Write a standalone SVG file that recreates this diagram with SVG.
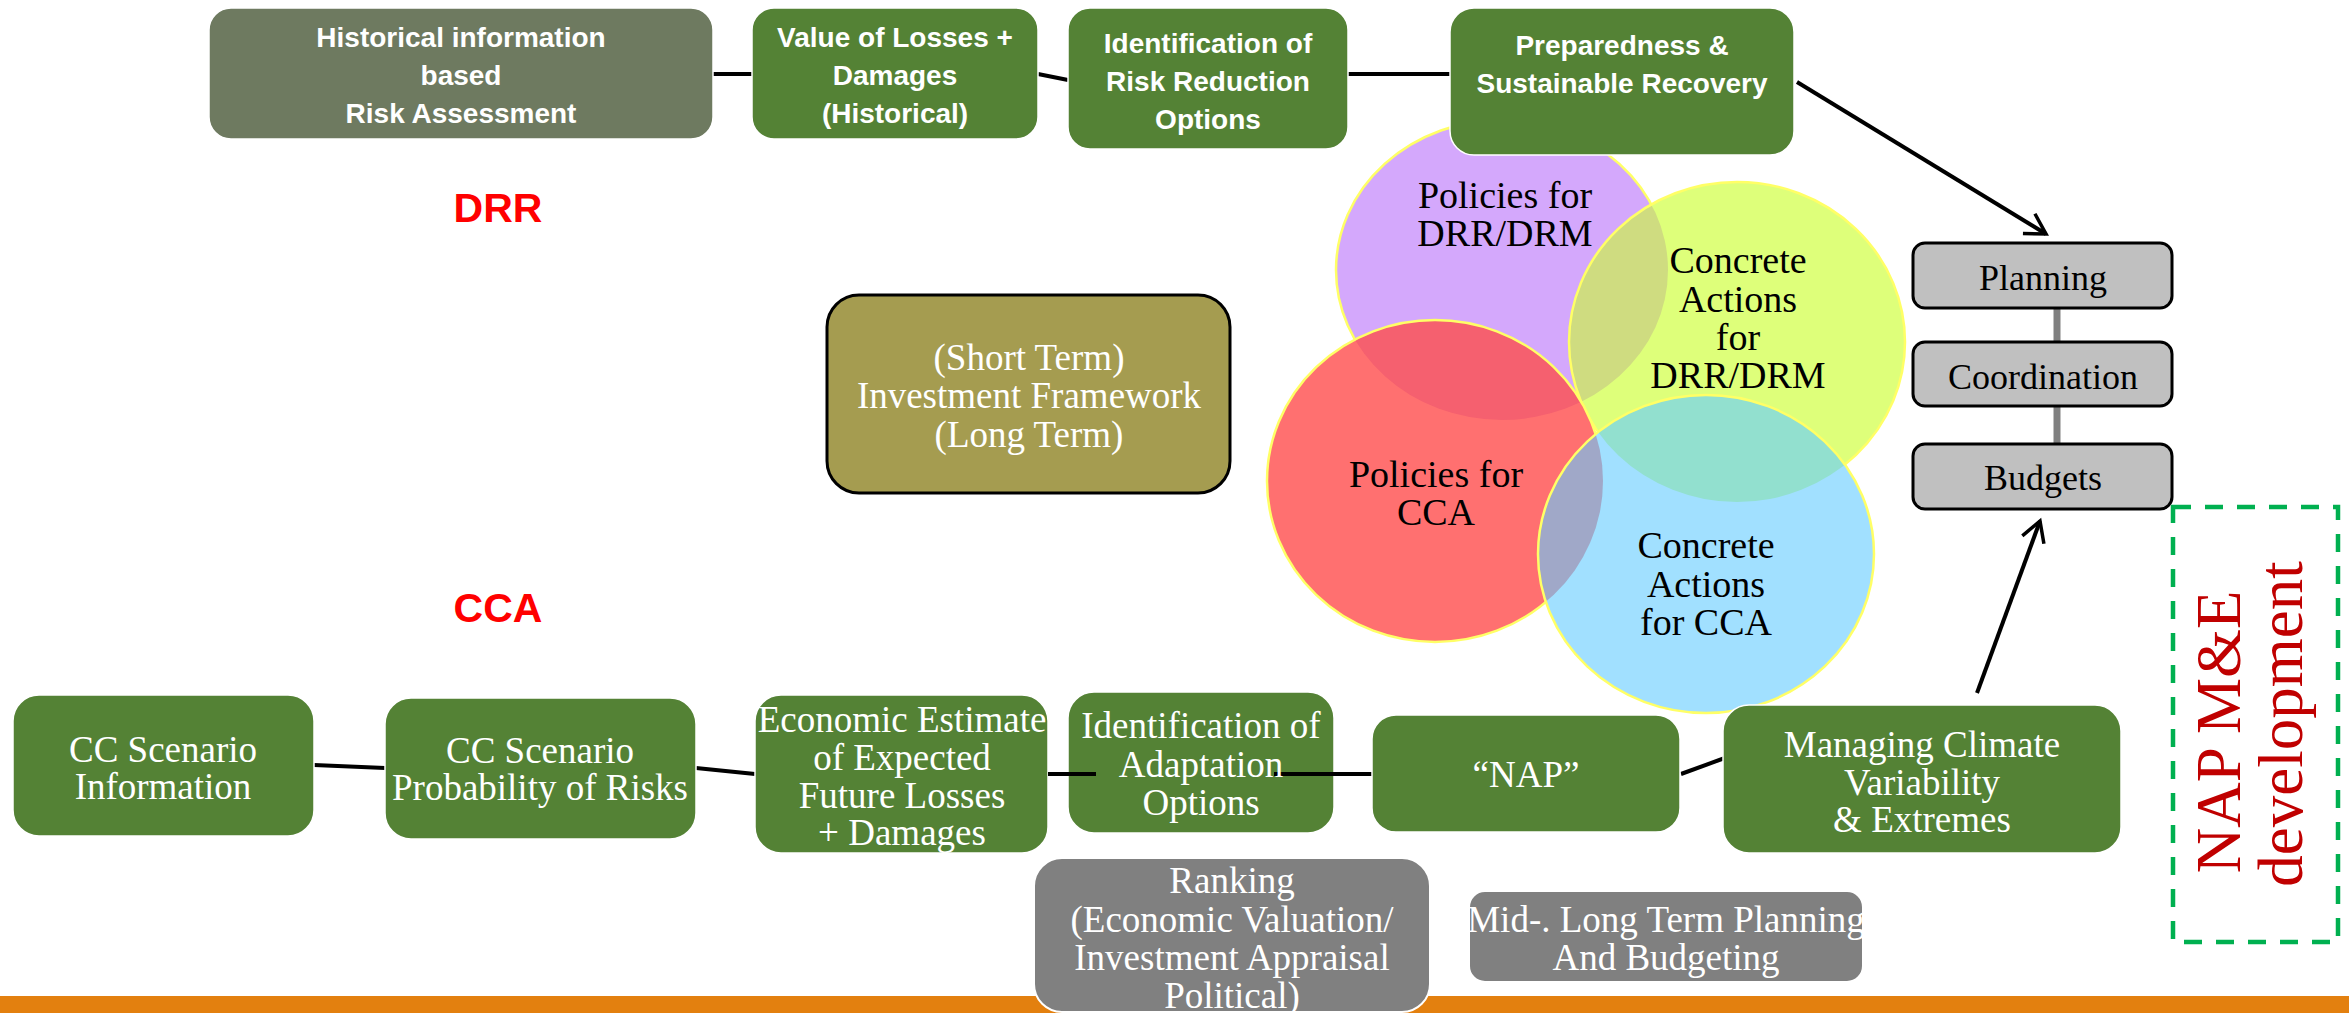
<svg xmlns="http://www.w3.org/2000/svg" xmlns:xlink="http://www.w3.org/1999/xlink" width="2349" height="1013" viewBox="0 0 2349 1013">
  <style>
    .g { fill: #548235; stroke: #ffffff; stroke-width: 1.5; }
    .gd { fill: #6e7a60; stroke: #ffffff; stroke-width: 1.5; }
    .gr { fill: #808080; stroke: #ffffff; stroke-width: 2; }
    .pl { fill: #c0c0c0; stroke: #000000; stroke-width: 3; }
    .tb { font-family: "Liberation Sans", Arial, sans-serif; font-weight: bold; font-size: 28px; fill: #ffffff; text-anchor: middle; }
    .ts { font-family: "Liberation Serif", "Times New Roman", serif; font-size: 37px; fill: #ffffff; text-anchor: middle; }
    .tk { font-family: "Liberation Serif", "Times New Roman", serif; font-size: 38px; fill: #000000; text-anchor: middle; }
    .tp { font-family: "Liberation Serif", "Times New Roman", serif; font-size: 36px; fill: #000000; text-anchor: middle; }
    .lab { font-family: "Liberation Sans", Arial, sans-serif; font-weight: bold; font-size: 41px; fill: #ff0000; text-anchor: middle; }
    .ln { stroke: #000000; stroke-width: 4; fill: none; }
    .edge { fill: none; stroke: #ffff66; stroke-width: 2.5; }
  </style>
  <defs>
    <marker id="open" markerUnits="userSpaceOnUse" markerWidth="30" markerHeight="30" viewBox="-24 -15 28 30" refX="0" refY="0" orient="auto">
      <path d="M-20,-11.5 L0,0 L-20,11.5" fill="none" stroke="#000" stroke-width="3.5"/>
    </marker>
    <ellipse id="eP" cx="1502" cy="270" rx="166" ry="150"/>
    <ellipse id="eY" cx="1737" cy="342" rx="168" ry="160"/>
    <ellipse id="eR" cx="1435" cy="481" rx="168" ry="161"/>
    <ellipse id="eB" cx="1706" cy="554" rx="168" ry="159"/>
    <clipPath id="cP"><use xlink:href="#eP"/></clipPath>
    <clipPath id="cY"><use xlink:href="#eY"/></clipPath>
    <clipPath id="cR"><use xlink:href="#eR"/></clipPath>
  </defs>

  <rect x="0" y="0" width="2349" height="1013" fill="#ffffff"/>

  <!-- bottom band -->
  <rect x="0" y="996" width="2349" height="17" fill="#e3800f"/>

  <!-- four overlapping policy / action areas -->
  <g id="venn">
    <use xlink:href="#eP" fill="#d4a8fc"/>
    <use xlink:href="#eP" class="edge"/>
    <use xlink:href="#eY" fill="#deff7a"/>
    <use xlink:href="#eY" fill="#cfdc80" clip-path="url(#cP)"/>
    <use xlink:href="#eY" class="edge"/>
    <use xlink:href="#eR" fill="#ff7070"/>
    <use xlink:href="#eR" fill="#f5606f" clip-path="url(#cP)"/>
    <use xlink:href="#eR" fill="#efa070" clip-path="url(#cY)"/>
    <use xlink:href="#eR" class="edge"/>
    <use xlink:href="#eB" fill="#a1e0ff"/>
    <use xlink:href="#eB" fill="#92e0cf" clip-path="url(#cY)"/>
    <use xlink:href="#eB" fill="#a0a8c8" clip-path="url(#cR)"/>
    <use xlink:href="#eB" class="edge"/>
  </g>
  <g id="venn-policies-drr">
    <text class="tk" x="1505" y="208">Policies for</text>
    <text class="tk" x="1505" y="246">DRR/DRM</text>
  </g>
  <g id="venn-actions-drr">
    <text class="tk" x="1738" y="273">Concrete</text>
    <text class="tk" x="1738" y="312">Actions</text>
    <text class="tk" x="1738" y="350">for</text>
    <text class="tk" x="1738" y="388">DRR/DRM</text>
  </g>
  <g id="venn-policies-cca">
    <text class="tk" x="1436" y="487">Policies for</text>
    <text class="tk" x="1436" y="525">CCA</text>
  </g>
  <g id="venn-actions-cca">
    <text class="tk" x="1706" y="558">Concrete</text>
    <text class="tk" x="1706" y="597">Actions</text>
    <text class="tk" x="1706" y="635">for CCA</text>
  </g>

  <!-- connectors -->
  <g id="connectors">
    <line class="ln" x1="713" y1="74" x2="752" y2="74"/>
    <line class="ln" x1="1038" y1="74" x2="1068" y2="80"/>
    <line class="ln" x1="1348" y1="74" x2="1450" y2="74"/>
    <line class="ln" x1="1797" y1="82" x2="2046" y2="234" stroke-width="3" marker-end="url(#open)"/>
    <line class="ln" x1="1977" y1="693" x2="2040" y2="521" stroke-width="3" marker-end="url(#open)"/>
    <line class="ln" x1="314" y1="765" x2="385" y2="768"/>
    <line class="ln" x1="696" y1="768" x2="755" y2="774"/>
    <line class="ln" x1="1681" y1="774" x2="1733" y2="755"/>
    <line x1="2057" y1="308" x2="2057" y2="342" stroke="#808080" stroke-width="7"/>
    <line x1="2057" y1="406" x2="2057" y2="444" stroke="#808080" stroke-width="7"/>
  </g>

  <!-- DRR chain -->
  <g id="hist-risk">
    <rect class="gd" x="209" y="8" width="504" height="131" rx="22"/>
    <text class="tb" x="461" y="47">Historical information</text>
    <text class="tb" x="461" y="85">based</text>
    <text class="tb" x="461" y="123">Risk Assessment</text>
  </g>
  <g id="value-losses">
    <rect class="g" x="752" y="8" width="286" height="131" rx="22"/>
    <text class="tb" x="895" y="47">Value of Losses +</text>
    <text class="tb" x="895" y="85">Damages</text>
    <text class="tb" x="895" y="123">(Historical)</text>
  </g>
  <g id="risk-reduction">
    <rect class="g" x="1068" y="8" width="280" height="141" rx="22"/>
    <text class="tb" x="1208" y="53">Identification of</text>
    <text class="tb" x="1208" y="91">Risk Reduction</text>
    <text class="tb" x="1208" y="129">Options</text>
  </g>
  <g id="preparedness">
    <rect class="g" x="1450" y="8" width="344" height="147" rx="24"/>
    <text class="tb" x="1622" y="55">Preparedness &amp;</text>
    <text class="tb" x="1622" y="93">Sustainable Recovery</text>
  </g>

  <g id="label-drr"><text class="lab" x="498" y="222">DRR</text></g>
  <g id="label-cca"><text class="lab" x="498" y="622">CCA</text></g>

  <g id="investment">
    <rect x="827" y="295" width="403" height="198" rx="32" fill="#a59c50" stroke="#000" stroke-width="3"/>
    <text class="ts" x="1029" y="370">(Short Term)</text>
    <text class="ts" x="1029" y="408">Investment Framework</text>
    <text class="ts" x="1029" y="447">(Long Term)</text>
  </g>

  <!-- planning stack -->
  <g id="planning">
    <rect class="pl" x="1913" y="243" width="259" height="65" rx="12"/>
    <text class="tp" x="2043" y="290">Planning</text>
  </g>
  <g id="coordination">
    <rect class="pl" x="1913" y="342" width="259" height="64" rx="12"/>
    <text class="tp" x="2043" y="389">Coordination</text>
  </g>
  <g id="budgets">
    <rect class="pl" x="1913" y="444" width="259" height="65" rx="12"/>
    <text class="tp" x="2043" y="490">Budgets</text>
  </g>

  <!-- CCA chain -->
  <g id="cc-info">
    <rect class="g" x="13" y="695" width="301" height="141" rx="26"/>
    <text class="ts" x="163" y="762">CC Scenario</text>
    <text class="ts" x="163" y="799">Information</text>
  </g>
  <g id="cc-prob">
    <rect class="g" x="385" y="698" width="311" height="141" rx="26"/>
    <text class="ts" x="540" y="763">CC Scenario</text>
    <text class="ts" x="540" y="800">Probability of Risks</text>
  </g>
  <g id="econ-estimate">
    <rect class="g" x="755" y="695" width="293" height="158" rx="26"/>
    <text class="ts" x="902" y="732">Economic Estimate</text>
    <text class="ts" x="902" y="770">of Expected</text>
    <text class="ts" x="902" y="808">Future Losses</text>
    <text class="ts" x="902" y="845">+ Damages</text>
  </g>
  <g id="adaptation">
    <rect class="g" x="1068" y="692" width="266" height="141" rx="26"/>
    <line class="ln" x1="1048" y1="774" x2="1096" y2="774"/>
    <line class="ln" x1="1274" y1="774" x2="1372" y2="774"/>
    <text class="ts" x="1201" y="738">Identification of</text>
    <text class="ts" x="1201" y="777">Adaptation</text>
    <text class="ts" x="1201" y="815">Options</text>
  </g>
  <g id="nap">
    <rect class="g" x="1372" y="715" width="308" height="117" rx="24"/>
    <text class="ts" x="1526" y="787">“NAP”</text>
  </g>
  <g id="managing">
    <rect class="g" x="1723" y="705" width="398" height="148" rx="26"/>
    <text class="ts" x="1922" y="757">Managing Climate</text>
    <text class="ts" x="1922" y="795">Variability</text>
    <text class="ts" x="1922" y="832">&amp; Extremes</text>
  </g>
  <g id="ranking">
    <rect class="gr" x="1034" y="858" width="396" height="154" rx="28"/>
    <text class="ts" x="1232" y="893">Ranking</text>
    <text class="ts" x="1232" y="932">(Economic Valuation/</text>
    <text class="ts" x="1232" y="970">Investment Appraisal</text>
    <text class="ts" x="1232" y="1008">Political)</text>
  </g>
  <g id="mid-long">
    <rect class="gr" x="1469" y="891" width="394" height="91" rx="16"/>
    <text class="ts" x="1666" y="932">Mid-. Long Term Planning</text>
    <text class="ts" x="1666" y="970">And Budgeting</text>
  </g>

  <!-- monitoring frame -->
  <g id="nap-me">
    <rect x="2173" y="507" width="165" height="435" fill="none" stroke="#00b050" stroke-width="4.5" stroke-dasharray="18 14"/>
    <text transform="translate(2240,724) rotate(-90)" font-family="'Liberation Serif', 'Times New Roman', serif" font-size="63" fill="#c00000" text-anchor="middle">
      <tspan x="0" y="0">NAP M&amp;E</tspan>
      <tspan x="0" y="62">development</tspan>
    </text>
  </g>
</svg>
